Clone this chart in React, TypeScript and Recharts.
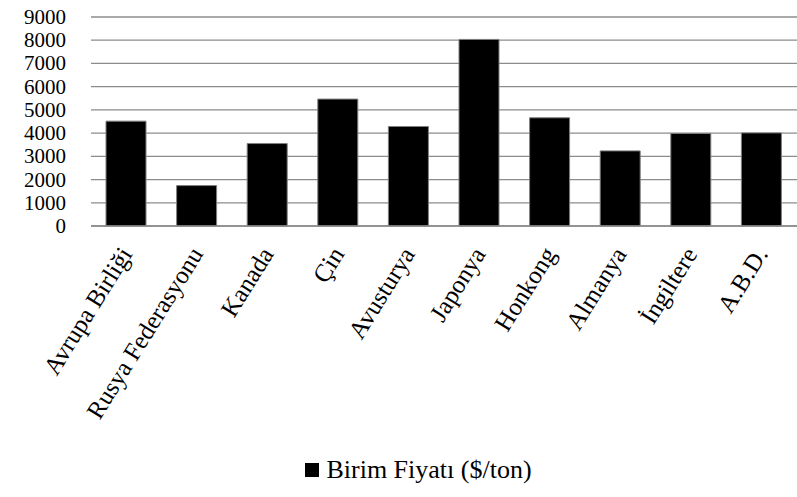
import { BarChart, Bar, XAxis, YAxis, CartesianGrid, Legend } from 'recharts';

// Unit price per country ($/ton)
const countries = [
  'Avrupa Birliği',
  'Rusya Federasyonu',
  'Kanada',
  'Çin',
  'Avusturya',
  'Japonya',
  'Honkong',
  'Almanya',
  'İngiltere',
  'A.B.D.',
];
const unitPrices = [4515, 1740, 3550, 5465, 4285, 8035, 4660, 3235, 3985, 4010];
const yTicks = [0, 1000, 2000, 3000, 4000, 5000, 6000, 7000, 8000, 9000];
const seriesName = 'Birim Fiyatı ($/ton)';

const data = countries.map((country, i) => ({ country, price: unitPrices[i] }));

const FONT = 'Liberation Serif';

interface TickProps {
  x?: number;
  y?: number;
  payload?: { value: string | number };
}

// Rotated category label, anchored at its end near the bar
const CountryTick = ({ x = 0, y = 0, payload }: TickProps) => (
  <g transform={`translate(${x + 7},${y + 22})`}>
    <text
      x={0}
      y={0}
      textAnchor="end"
      transform="rotate(-58)"
      style={{ fontFamily: FONT, fontSize: 25 }}
      fill="#000"
    >
      {payload?.value}
    </text>
  </g>
);

const ValueTick = ({ x = 0, y = 0, payload }: TickProps) => (
  <text
    x={x}
    y={y}
    dy={7}
    textAnchor="end"
    style={{ fontFamily: FONT, fontSize: 21 }}
    fill="#000"
  >
    {payload?.value}
  </text>
);

const SeriesLegend = () => (
  <div
    style={{
      display: 'flex',
      alignItems: 'center',
      justifyContent: 'center',
      fontFamily: FONT,
      fontSize: 26,
      lineHeight: '30px',
      color: '#000',
    }}
  >
    <span style={{ width: 14, height: 14, background: '#000', marginRight: 7, display: 'inline-block' }} />
    <span>{seriesName}</span>
  </div>
);

const App = () => {
  return (
    <div style={{ position: 'absolute', left: 0, top: 0 }}>
      <BarChart
        width={797}
        height={497}
        data={data}
        margin={{ top: 17, right: 0, left: 0, bottom: 0 }}
      >
        <CartesianGrid vertical={false} stroke="#8c8c8c" strokeWidth={1.3} />
        <XAxis
          dataKey="country"
          height={271}
          interval={0}
          axisLine={{ stroke: '#8c8c8c', strokeWidth: 1.3 }}
          tickLine={false}
          tickMargin={0}
          tick={<CountryTick />}
        />
        <YAxis
          width={91}
          domain={[0, 9000]}
          ticks={yTicks}
          interval={0}
          axisLine={false}
          tickLine={false}
          tickMargin={19}
          tick={<ValueTick />}
        />
        <Legend
          verticalAlign="middle"
          align="center"
          wrapperStyle={{ top: 455, left: 20 }}
          content={<SeriesLegend />}
        />
        <Bar
          dataKey="price"
          name={seriesName}
          fill="#000"
          stroke="#7f7f7f"
          strokeWidth={1}
          barSize={40}
          isAnimationActive={false}
        />
      </BarChart>
    </div>
  );
};

export default App;
